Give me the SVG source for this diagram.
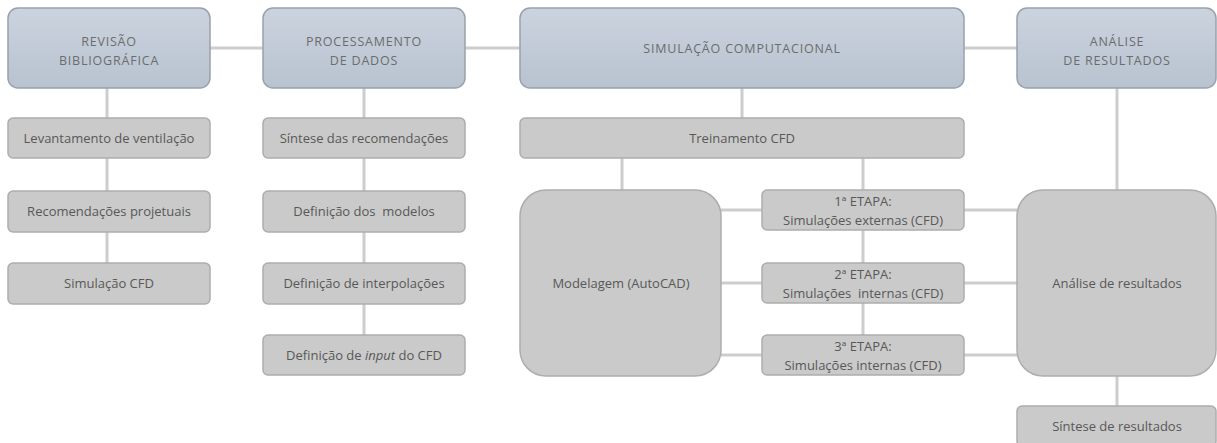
<svg xmlns="http://www.w3.org/2000/svg" width="1217" height="443" viewBox="0 0 1217 443">
<defs>
<linearGradient id="gTop" x1="0" y1="0" x2="0" y2="1">
<stop offset="0" stop-color="#cbd3de"/>
<stop offset="1" stop-color="#b8c3d0"/>
</linearGradient>
<style>
.top{fill:url(#gTop);stroke:#99a1ab;stroke-width:1.5}
.sub{fill:#cacaca;stroke:#adadad;stroke-width:1.5}
.tt{font-family:"Open Sans","Liberation Sans",sans-serif;font-size:12.5px;letter-spacing:0.8px;fill:#6c6c6c;text-anchor:middle}
.st{font-family:"Open Sans","Liberation Sans",sans-serif;font-size:13px;fill:#585858;text-anchor:middle}
.pre{white-space:pre}
.ln{stroke:#cdcdcd;stroke-width:3;fill:none}
</style>
</defs>
<rect width="1217" height="443" fill="#ffffff"/>
<g id="connectors">
<line class="ln" x1="210" y1="48" x2="263" y2="48"/>
<line class="ln" x1="465" y1="48" x2="520" y2="48"/>
<line class="ln" x1="964" y1="48" x2="1017" y2="48"/>
<line class="ln" x1="107" y1="88" x2="107" y2="118"/>
<line class="ln" x1="107" y1="158" x2="107" y2="191"/>
<line class="ln" x1="107" y1="232" x2="107" y2="263"/>
<line class="ln" x1="364" y1="88" x2="364" y2="118"/>
<line class="ln" x1="364" y1="158" x2="364" y2="191"/>
<line class="ln" x1="364" y1="232" x2="364" y2="263"/>
<line class="ln" x1="364" y1="304" x2="364" y2="335"/>
<line class="ln" x1="742" y1="88" x2="742" y2="118"/>
<line class="ln" x1="622" y1="158" x2="622" y2="190"/>
<line class="ln" x1="863" y1="158" x2="863" y2="190"/>
<line class="ln" x1="863" y1="230" x2="863" y2="263"/>
<line class="ln" x1="863" y1="303" x2="863" y2="335"/>
<line class="ln" x1="721" y1="210" x2="762" y2="210"/>
<line class="ln" x1="721" y1="283" x2="762" y2="283"/>
<line class="ln" x1="721" y1="355" x2="762" y2="355"/>
<line class="ln" x1="964" y1="210" x2="1017" y2="210"/>
<line class="ln" x1="964" y1="283" x2="1017" y2="283"/>
<line class="ln" x1="964" y1="355" x2="1017" y2="355"/>
<line class="ln" x1="1117" y1="88" x2="1117" y2="190"/>
<line class="ln" x1="1117" y1="376" x2="1117" y2="406"/>
</g>
<g id="revisao"><rect class="top" x="8" y="8" width="202" height="80" rx="10"/><text class="tt" x="109" y="46">REVISÃO</text><text class="tt" x="109" y="65">BIBLIOGRÁFICA</text></g>
<g id="processamento"><rect class="top" x="263" y="8" width="202" height="80" rx="10"/><text class="tt" x="364" y="46">PROCESSAMENTO</text><text class="tt" x="364" y="65">DE DADOS</text></g>
<g id="simulacao"><rect class="top" x="520" y="8" width="444" height="80" rx="10"/><text class="tt" x="742" y="53">SIMULAÇÃO COMPUTACIONAL</text></g>
<g id="analise"><rect class="top" x="1017" y="8" width="199" height="80" rx="10"/><text class="tt" x="1117" y="46">ANÁLISE</text><text class="tt" x="1117" y="65">DE RESULTADOS</text></g>
<g id="levantamento"><rect class="sub" x="8" y="118" width="202" height="40" rx="5"/><text class="st" x="109" y="143">Levantamento de ventilação</text></g>
<g id="recomendacoes"><rect class="sub" x="8" y="191" width="202" height="41" rx="5"/><text class="st" x="109" y="216">Recomendações projetuais</text></g>
<g id="simcfd"><rect class="sub" x="8" y="263" width="202" height="41" rx="5"/><text class="st" x="109" y="288">Simulação CFD</text></g>
<g id="sintese"><rect class="sub" x="263" y="118" width="202" height="40" rx="5"/><text class="st" x="364" y="143">Síntese das recomendações</text></g>
<g id="modelos"><rect class="sub" x="263" y="191" width="202" height="41" rx="5"/><text class="st pre" x="364" y="216">Definição dos  modelos</text></g>
<g id="interpolacoes"><rect class="sub" x="263" y="263" width="202" height="41" rx="5"/><text class="st" x="364" y="288">Definição de interpolações</text></g>
<g id="input"><rect class="sub" x="263" y="335" width="202" height="40" rx="5"/><text class="st" x="364" y="360">Definição de <tspan font-style="italic">input</tspan> do CFD</text></g>
<g id="treinamento"><rect class="sub" x="520" y="118" width="444" height="40" rx="5"/><text class="st" x="742" y="143">Treinamento CFD</text></g>
<g id="modelagem"><rect class="sub" x="520" y="190" width="201" height="186" rx="26"/><text class="st" x="621" y="288">Modelagem (AutoCAD)</text></g>
<g id="etapa1"><rect class="sub" x="762" y="190" width="202" height="40" rx="5"/><text class="st" x="863" y="206">1ª ETAPA:</text><text class="st" x="863" y="225">Simulações externas (CFD)</text></g>
<g id="etapa2"><rect class="sub" x="762" y="263" width="202" height="40" rx="5"/><text class="st" x="863" y="279">2ª ETAPA:</text><text class="st pre" x="863" y="298">Simulações  internas (CFD)</text></g>
<g id="etapa3"><rect class="sub" x="762" y="335" width="202" height="40" rx="5"/><text class="st" x="863" y="351">3ª ETAPA:</text><text class="st" x="863" y="370">Simulações internas (CFD)</text></g>
<g id="analiseres"><rect class="sub" x="1017" y="190" width="199" height="186" rx="26"/><text class="st" x="1117" y="288">Análise de resultados</text></g>
<g id="sinteseres"><rect class="sub" x="1017" y="406" width="199" height="40" rx="5"/><text class="st" x="1117" y="431">Síntese de resultados</text></g>
</svg>
